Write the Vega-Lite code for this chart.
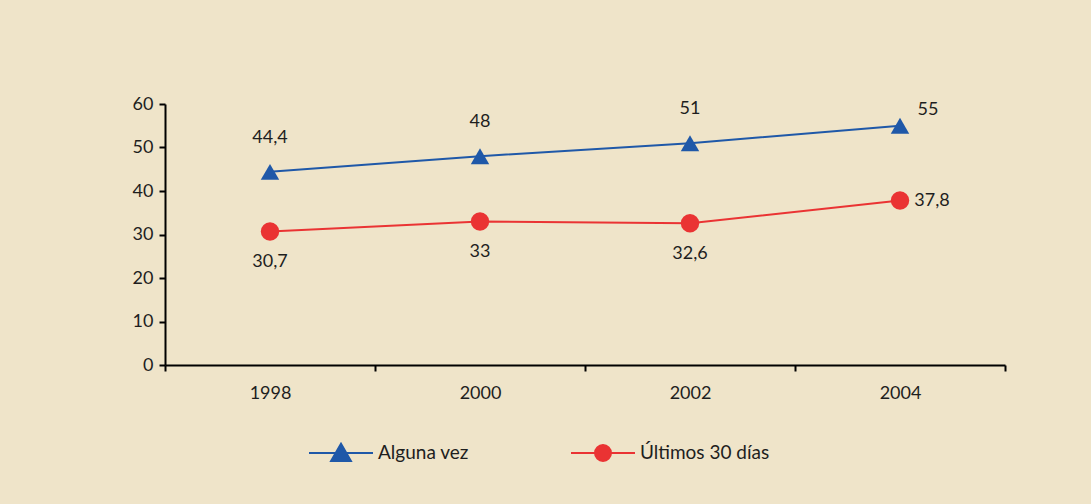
{
  "$schema": "https://vega.github.io/schema/vega-lite/v6.json",
  "width": 840,
  "height": 261,
  "autosize": {"type": "none"},
  "padding": {"left": 165, "top": 104, "right": 86, "bottom": 139},
  "background": "#efe4c9",
  "config": {
    "view": {"stroke": null},
    "font": "Lato",
    "axis": {"labelFont": "Lato", "labelFontSize": 18, "labelColor": "#1e1e1e", "domainColor": "#000000", "domainWidth": 2, "tickColor": "#000000", "tickWidth": 2, "grid": false, "title": null}
  },
  "data": {"values": [
    {"year": "1998", "series": "Alguna vez", "value": 44.4, "label": "44,4"},
    {"year": "2000", "series": "Alguna vez", "value": 48, "label": "48"},
    {"year": "2002", "series": "Alguna vez", "value": 51, "label": "51"},
    {"year": "2004", "series": "Alguna vez", "value": 55, "label": "55"},
    {"year": "1998", "series": "Últimos 30 días", "value": 30.7, "label": "30,7"},
    {"year": "2000", "series": "Últimos 30 días", "value": 33, "label": "33"},
    {"year": "2002", "series": "Últimos 30 días", "value": 32.6, "label": "32,6"},
    {"year": "2004", "series": "Últimos 30 días", "value": 37.8, "label": "37,8"}
  ]},
  "encoding": {
    "x": {"field": "year", "type": "ordinal", "scale": {"type": "band", "paddingInner": 0, "paddingOuter": 0}, "axis": {"labelAngle": 0, "tickBand": "extent", "tickSize": 6, "labelPadding": 13}},
    "y": {"field": "value", "type": "quantitative", "scale": {"domain": [0, 60], "nice": false}, "axis": {"values": [0, 10, 20, 30, 40, 50, 60], "tickSize": 6, "labelPadding": 6}}
  },
  "resolve": {"scale": {"shape": "independent"}, "legend": {"shape": "independent", "color": "independent", "fill": "independent"}},
  "layer": [
    {
      "mark": {"type": "line", "strokeWidth": 2},
      "encoding": {
        "color": {"field": "series", "type": "nominal", "scale": {"domain": ["Alguna vez", "Últimos 30 días"], "range": ["#1f58a8", "#ea3333"]}, "legend": null}
      }
    },
    {
      "mark": {"type": "point", "filled": true, "opacity": 1, "size": 340},
      "encoding": {
        "color": {"field": "series", "type": "nominal", "scale": {"domain": ["Alguna vez", "Últimos 30 días"], "range": ["#1f58a8", "#ea3333"]}, "legend": null},
        "shape": {"field": "series", "type": "nominal", "scale": {"domain": ["Alguna vez", "Últimos 30 días"], "range": ["triangle-up", "circle"]}, "legend": null}
      }
    },
    {
      "transform": [{"filter": "datum.value < 0"}],
      "mark": {"type": "point", "filled": false, "opacity": 1, "strokeWidth": 2},
      "encoding": {
        "color": {"field": "series", "type": "nominal", "scale": {"domain": ["Alguna vez", "Últimos 30 días"], "range": ["#1f58a8", "#ea3333"]},
          "legend": {"title": null, "orient": "none", "direction": "horizontal", "legendX": 143, "legendY": 316, "symbolSize": 4096, "labelFont": "Lato", "labelFontSize": 19, "labelColor": "#1e1e1e", "labelOffset": 4, "columnPadding": 98, "symbolStrokeWidth": 2, "symbolOpacity": 1}},
        "fill": {"field": "series", "type": "nominal", "scale": {"domain": ["Alguna vez", "Últimos 30 días"], "range": ["#1f58a8", "#ea3333"]},
          "legend": {"title": null, "orient": "none", "direction": "horizontal", "legendX": 143, "legendY": 316, "symbolSize": 4096, "labelFont": "Lato", "labelFontSize": 19, "labelColor": "#1e1e1e", "labelOffset": 4, "columnPadding": 98, "symbolStrokeWidth": 2, "symbolOpacity": 1}},
        "shape": {"field": "series", "type": "nominal", "scale": {"domain": ["Alguna vez", "Últimos 30 días"], "range": ["M-1,0H1M0,-0.29L0.31,0.25H-0.31Z", "M-1,0H1M-0.25,0A0.25,0.25 0 1,0 0.25,0A0.25,0.25 0 1,0 -0.25,0Z"]},
          "legend": {"title": null, "orient": "none", "direction": "horizontal", "legendX": 143, "legendY": 316, "symbolSize": 4096, "labelFont": "Lato", "labelFontSize": 19, "labelColor": "#1e1e1e", "labelOffset": 4, "columnPadding": 98, "symbolStrokeWidth": 2, "symbolOpacity": 1}}
      }
    },
    {
      "transform": [{"filter": "datum.series === 'Alguna vez' && datum.year !== '2004'"}],
      "mark": {"type": "text", "dy": -34, "fontSize": 18, "color": "#1e1e1e", "font": "Lato"},
      "encoding": {"text": {"field": "label"}}
    },
    {
      "transform": [{"filter": "datum.series === 'Alguna vez' && datum.year === '2004'"}],
      "mark": {"type": "text", "dx": 28, "dy": -16, "fontSize": 18, "color": "#1e1e1e", "font": "Lato"},
      "encoding": {"text": {"field": "label"}}
    },
    {
      "transform": [{"filter": "datum.series !== 'Alguna vez' && datum.year !== '2004'"}],
      "mark": {"type": "text", "dy": 31, "fontSize": 18, "color": "#1e1e1e", "font": "Lato"},
      "encoding": {"text": {"field": "label"}}
    },
    {
      "transform": [{"filter": "datum.series !== 'Alguna vez' && datum.year === '2004'"}],
      "mark": {"type": "text", "dx": 32, "dy": 0, "fontSize": 18, "color": "#1e1e1e", "font": "Lato"},
      "encoding": {"text": {"field": "label"}}
    }
  ]
}
